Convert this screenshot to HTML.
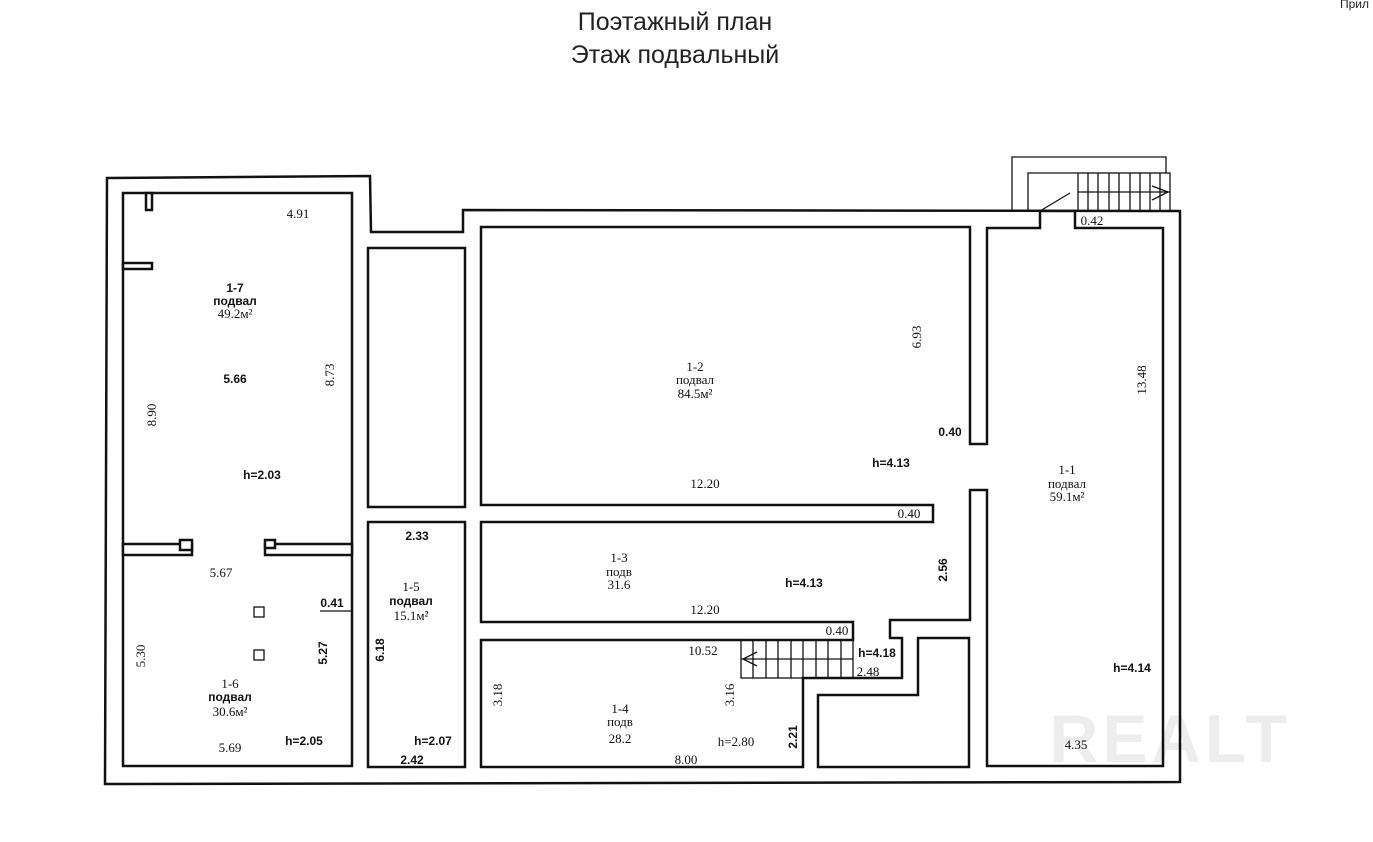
<!DOCTYPE html>
<html><head><meta charset="utf-8"><style>
html,body{margin:0;padding:0;background:#fff;width:1373px;height:842px;overflow:hidden}
svg{display:block}
.t{font-family:"Liberation Serif",serif;font-size:13px;fill:#111;text-anchor:middle}
.b{font-family:"Liberation Sans",sans-serif;font-size:12px;fill:#111;text-anchor:middle;font-weight:bold}
.w{fill:#fff;stroke:#111;stroke-width:2.5}
.l{fill:none;stroke:#111;stroke-width:1.3}
</style></head><body>
<svg width="1373" height="842" viewBox="0 0 1373 842" xmlns="http://www.w3.org/2000/svg">
<text x="675" y="30" style="font-family:'Liberation Sans',sans-serif;font-size:25px;fill:#222;text-anchor:middle">Поэтажный план</text>
<text x="675" y="63" style="font-family:'Liberation Sans',sans-serif;font-size:25px;fill:#222;text-anchor:middle">Этаж подвальный</text>
<text x="1340" y="8" style="font-family:'Liberation Sans',sans-serif;font-size:12px;fill:#222">Прил</text>

<!-- stair outside -->
<polyline class="l" points="1012,211 1012,157 1166,157 1166,173"/>
<polyline class="l" points="1028,211 1028,173 1078,173"/>
<rect class="l" x="1078" y="173" width="92" height="38"/>
<line class="l" x1="1078" y1="192" x2="1170" y2="192"/>
<g class="l">
<line x1="1088" y1="173" x2="1088" y2="211"/><line x1="1098" y1="173" x2="1098" y2="211"/><line x1="1109" y1="173" x2="1109" y2="211"/><line x1="1119" y1="173" x2="1119" y2="211"/><line x1="1130" y1="173" x2="1130" y2="211"/><line x1="1140" y1="173" x2="1140" y2="211"/><line x1="1150" y1="173" x2="1150" y2="211"/><line x1="1160" y1="173" x2="1160" y2="211"/>
<polyline points="1152,186 1168,192 1152,200"/>
</g>

<!-- outer wall -->
<polygon class="w" points="107,178 370,176 371,232 463,232 463,210 1180,211 1180,782 105,784"/>
<line class="l" x1="1040" y1="211" x2="1070" y2="193"/>

<!-- left rooms -->
<polygon class="w" points="123,193 352,193 352,766 123,766"/>
<rect class="w" x="146" y="193" width="6" height="17"/>
<rect class="w" x="123" y="263" width="29" height="6"/>
<rect class="w" x="123" y="544" width="69" height="11"/>
<rect class="w" x="180" y="540" width="12" height="10"/>
<rect class="w" x="265" y="544" width="87" height="11"/>
<rect class="w" x="265" y="540" width="10" height="8"/>
<rect class="w" x="368" y="248" width="97" height="259"/>
<rect class="w" x="368" y="522" width="97" height="245"/>
<rect class="l" x="254" y="607" width="10" height="10"/>
<rect class="l" x="254" y="650" width="10" height="10"/>
<line class="l" x1="320" y1="611" x2="352" y2="611"/>

<!-- big merged interior -->
<polygon class="w" points="481,227 970,227 970,444 987,444 987,228 1040,228 1040,211 1075,211 1075,228 1163,228 1163,766 987,766 987,490 970,490 970,620 890,620 890,638 902,638 902,678 803,678 803,767 481,767 481,640 853,640 853,622 481,622 481,522 933,522 933,505 481,505"/>
<polygon class="w" points="818,695 918,695 918,638 969,638 969,767 818,767"/>

<!-- watermark -->
<text x="1170" y="762" style="font-family:'Liberation Sans',sans-serif;font-size:68px;fill:#000;fill-opacity:0.07;text-anchor:middle;font-weight:bold;letter-spacing:4px">REALT</text>

<!-- inner stair -->
<rect class="l" x="741" y="640" width="112" height="38"/>
<line class="l" x1="741" y1="659" x2="853" y2="659"/>
<g class="l">
<line x1="753" y1="640" x2="753" y2="678"/><line x1="766" y1="640" x2="766" y2="678"/><line x1="778" y1="640" x2="778" y2="678"/><line x1="791" y1="640" x2="791" y2="678"/><line x1="803" y1="640" x2="803" y2="678"/><line x1="816" y1="640" x2="816" y2="678"/><line x1="828" y1="640" x2="828" y2="678"/><line x1="841" y1="640" x2="841" y2="678"/>
<polyline points="757,652 743,659 757,666"/>
</g>

<!-- labels -->
<text class="t" x="298" y="218">4.91</text>
<text class="b" x="235" y="292">1-7</text>
<text class="b" x="235" y="305">подвал</text>
<text class="t" x="235" y="318">49.2м²</text>
<text class="b" x="235" y="383">5.66</text>
<text class="t" transform="translate(334,375) rotate(-90)">8.73</text>
<text class="t" transform="translate(156,415) rotate(-90)">8.90</text>
<text class="b" x="262" y="479">h=2.03</text>
<text class="b" x="417" y="540">2.33</text>
<text class="t" x="221" y="577">5.67</text>
<text class="b" x="332" y="607">0.41</text>
<text class="t" x="411" y="591">1-5</text>
<text class="b" x="411" y="605">подвал</text>
<text class="t" x="411" y="620">15.1м²</text>
<text class="b" transform="translate(384,650) rotate(-90)">6.18</text>
<text class="t" transform="translate(145,656) rotate(-90)">5.30</text>
<text class="b" transform="translate(327,653) rotate(-90)">5.27</text>
<text class="t" x="230" y="688">1-6</text>
<text class="b" x="230" y="701">подвал</text>
<text class="t" x="230" y="716">30.6м²</text>
<text class="t" x="230" y="752">5.69</text>
<text class="b" x="304" y="745">h=2.05</text>
<text class="b" x="433" y="745">h=2.07</text>
<text class="b" x="412" y="764">2.42</text>

<text class="t" x="695" y="371">1-2</text>
<text class="t" x="695" y="384">подвал</text>
<text class="t" x="695" y="398">84.5м²</text>
<text class="t" transform="translate(921,337) rotate(-90)">6.93</text>
<text class="t" transform="translate(1146,380) rotate(-90)">13.48</text>
<text class="b" x="950" y="436">0.40</text>
<text class="b" x="891" y="467">h=4.13</text>
<text class="t" x="705" y="488">12.20</text>
<text class="t" x="909" y="518">0.40</text>
<text class="t" x="1092" y="225">0.42</text>
<text class="t" x="1067" y="474">1-1</text>
<text class="t" x="1067" y="488">подвал</text>
<text class="t" x="1067" y="501">59.1м²</text>
<text class="t" x="619" y="562">1-3</text>
<text class="t" x="619" y="576">подв</text>
<text class="t" x="619" y="589">31.6</text>
<text class="b" x="804" y="587">h=4.13</text>
<text class="b" transform="translate(947,570) rotate(-90)">2.56</text>
<text class="t" x="705" y="614">12.20</text>
<text class="t" x="837" y="635">0.40</text>
<text class="t" x="703" y="655">10.52</text>
<text class="b" x="877" y="657">h=4.18</text>
<text class="t" x="868" y="676">2.48</text>
<text class="b" x="1132" y="672">h=4.14</text>
<text class="t" transform="translate(502,695) rotate(-90)">3.18</text>
<text class="t" x="620" y="713">1-4</text>
<text class="t" x="620" y="726">подв</text>
<text class="t" x="620" y="743">28.2</text>
<text class="t" transform="translate(734,695) rotate(-90)">3.16</text>
<text class="t" x="736" y="746">h=2.80</text>
<text class="b" transform="translate(797,737) rotate(-90)">2.21</text>
<text class="t" x="686" y="764">8.00</text>
<text class="t" x="1076" y="749">4.35</text>
</svg>
</body></html>
